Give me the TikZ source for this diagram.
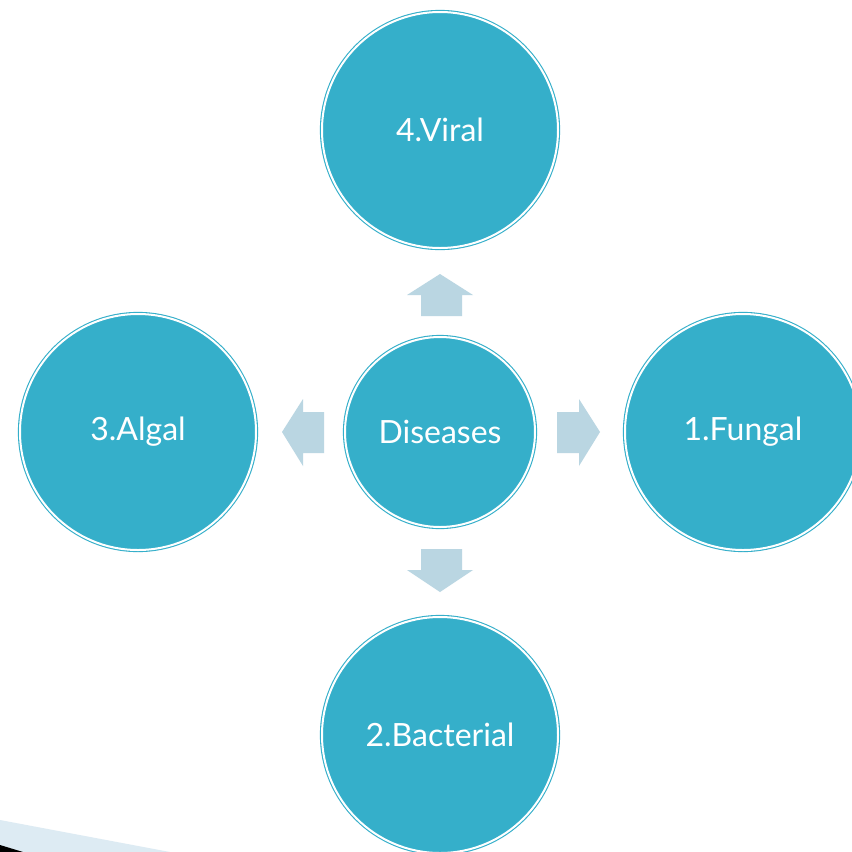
\documentclass[tikz,border=0pt]{standalone}
\usepackage{fontspec}
\setmainfont{Lato}
\usepackage{tikz}

\definecolor{circteal}{HTML}{35AFCA}
\definecolor{arrowblue}{HTML}{BAD6E2}
\definecolor{bandblue}{HTML}{DDEBF3}

\begin{document}
\begin{tikzpicture}[x=1pt,y=-1pt]
    \useasboundingbox (0,0) rectangle (852,852);
    \clip (0,0) rectangle (852,852);
    \fill[white] (0,0) rectangle (852,852);

    % corner band
    \fill[bandblue] (0,820) -- (170,852) -- (0,852) -- cycle;
    \fill[black] (0,845) -- (23,852) -- (0,852) -- cycle;

    \begin{scope}[every node/.style={circle,fill=circteal,draw=circteal,double=white,
        line width=1.1pt,double distance=2pt,text=white,font=\fontsize{32}{38}\selectfont}]
        \node[minimum size=190pt] (dis) at (440,432) {Diseases};
        \node[minimum size=236pt] (vir) at (440,130) {4.Viral};
        \node[minimum size=236pt] (alg) at (138,432) {3.Algal};
        \node[minimum size=236pt] (fun) at (743,432) {1.Fungal};
        \node[minimum size=236pt] (bac) at (440,735) {2.Bacterial};
    \end{scope}

    % block arrows
    \begin{scope}[every path/.style={fill=arrowblue}]
        \path (421,316) -- (421,295) -- (407,295) -- (440,274) -- (473,295) -- (462,295) -- (462,316) -- cycle;
        \path (421,549) -- (421,570) -- (407,570) -- (440,592) -- (473,570) -- (462,570) -- (462,549) -- cycle;
        \path (324,412) -- (303,412) -- (303,399) -- (282,432) -- (303,466) -- (303,453) -- (324,453) -- cycle;
        \path (557,412) -- (579,412) -- (579,399) -- (600,432) -- (579,466) -- (579,453) -- (557,453) -- cycle;
    \end{scope}
\end{tikzpicture}
\end{document}
